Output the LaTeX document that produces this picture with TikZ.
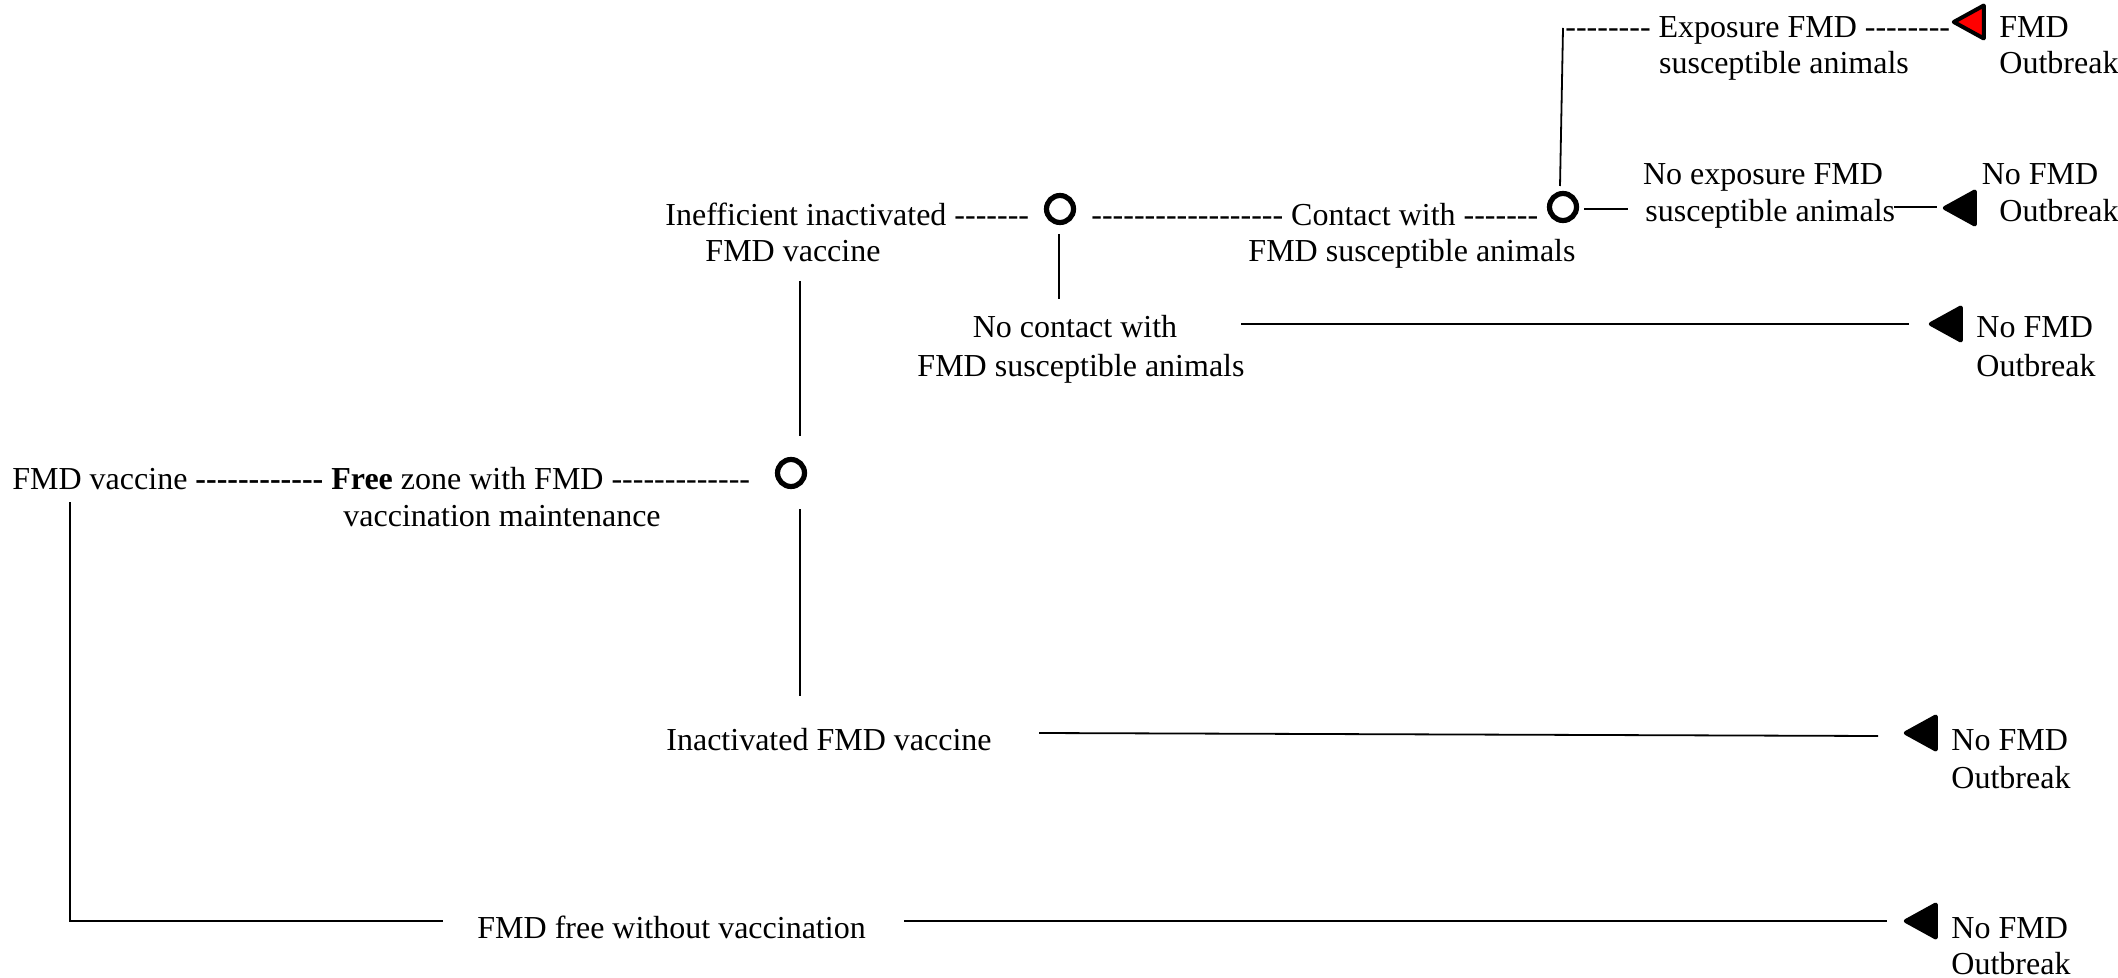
\documentclass[tikz,border=0pt]{standalone}
\usepackage{fontspec}
\setmainfont{Liberation Serif}
\usetikzlibrary{shapes.geometric}

% a run of separate hyphens (kerns keep them from turning into dashes)
\ExplSyntaxOn
\cs_new:Npn \hyrun #1 { \prg_replicate:nn {#1} { - \kern 0pt \relax } }
\ExplSyntaxOff

\tikzset{
  lbl/.style={inner sep=0pt, anchor=base, font=\fontsize{16pt}{18.25pt}\selectfont},
  lblw/.style={lbl, anchor=base west},
  link/.style={line width=0.9pt, line cap=butt},
  chance/.style={circle, draw, line width=2.6pt, fill=white, inner sep=0pt, minimum size=13.5pt},
  outcome/.style={isosceles triangle, isosceles triangle stretches,
    shape border rotate=180, draw, fill=black, line width=2pt, line join=round,
    inner sep=0pt, minimum width=16.5pt, minimum height=15pt},
}

\begin{document}
\begin{tikzpicture}[x=0.5pt, y=-0.5pt]
\useasboundingbox (0,0) rectangle (2118,978);

% ---- root: vaccination strategy ----
\node[lblw] (root) at (12,489) {FMD vaccine {\bfseries\hyrun{12}} \textbf{Free} zone with FMD \hyrun{13}};
\node[lbl] (root2) at (502,526) {vaccination maintenance};
\node[chance] (cA) at (791,473) {};

% ---- branch: inefficient vaccine ----
\node[lblw] (ineff) at (665,226) {Inefficient inactivated \hyrun{7}};
\node[lbl] (ineff2) at (793,262) {FMD vaccine};
\coordinate (aUp1) at (800,281);
\coordinate (aUp2) at (800,436);
\draw[link] (aUp1) -- (aUp2);
\node[chance] (cB) at (1060,209) {};

% contact with susceptible animals
\node[lblw] (cont) at (1091,226) {\hyrun{18} Contact with \hyrun{7}};
\node[lbl] (cont2) at (1412,262) {FMD susceptible animals};
\node[chance] (cC) at (1563,207) {};

% exposure -> outbreak
\coordinate (cUp1) at (1560,186);
\coordinate (cUp2) at (1563,28);
\draw[link] (cUp1) -- (cUp2);
\node[lblw] (expo) at (1565,38) {\hyrun{8} Exposure FMD \hyrun{8}};
\node[lbl] (expo2) at (1784,74) {susceptible animals};
\node[outcome, fill=red] (o1) at (1974,22) {};
\node[lblw] (o1t) at (1999,38) {FMD};
\node[lblw] (o1t2) at (1999,74) {Outbreak};

% no exposure -> no outbreak
\coordinate (cR1) at (1584,209);
\coordinate (cR2) at (1628,209);
\draw[link] (cR1) -- (cR2);
\node[lbl] (noexp) at (1763,185) {No exposure FMD};
\node[lblw] (noexp2) at (1645,222) {susceptible animals};
\coordinate (ne1) at (1894,207);
\coordinate (ne2) at (1937,207);
\draw[link] (ne1) -- (ne2);
\node[outcome] (o2) at (1965,208) {};
\node[lbl] (o2t) at (2040,185) {No FMD};
\node[lblw] (o2t2) at (1999,222) {Outbreak};

% no contact -> no outbreak
\coordinate (bD1) at (1059,234);
\coordinate (bD2) at (1059,299);
\draw[link] (bD1) -- (bD2);
\node[lbl] (nocont) at (1075,338) {No contact with};
\node[lbl] (nocont2) at (1081,376) {FMD susceptible animals};
\coordinate (nc1) at (1241,324);
\coordinate (nc2) at (1909,324);
\draw[link] (nc1) -- (nc2);
\node[outcome] (o3) at (1951,324) {};
\node[lblw] (o3t) at (1976,338) {No FMD};
\node[lblw] (o3t2) at (1976,376) {Outbreak};

% ---- branch: inactivated vaccine ----
\coordinate (aDn1) at (800,509);
\coordinate (aDn2) at (800,696);
\draw[link] (aDn1) -- (aDn2);
\node[lblw] (inact) at (666,750) {Inactivated FMD vaccine};
\coordinate (in1) at (1039,733);
\coordinate (in2) at (1878,736);
\draw[link] (in1) -- (in2);
\node[outcome] (o4) at (1926,733) {};
\node[lblw] (o4t) at (1951,750) {No FMD};
\node[lblw] (o4t2) at (1951,788) {Outbreak};

% ---- branch: free without vaccination ----
\coordinate (fr0) at (70,502);
\coordinate (fr1) at (70,921);
\coordinate (fr2) at (443,921);
\draw[link] (fr0) -- (fr1) -- (fr2);
\node[lblw] (free) at (477,938) {FMD free without vaccination};
\coordinate (fr3) at (904,921);
\coordinate (fr4) at (1887,921);
\draw[link] (fr3) -- (fr4);
\node[outcome] (o5) at (1926,921) {};
\node[lblw] (o5t) at (1951,938) {No FMD};
\node[lblw] (o5t2) at (1951,974) {Outbreak};
\end{tikzpicture}
\end{document}
